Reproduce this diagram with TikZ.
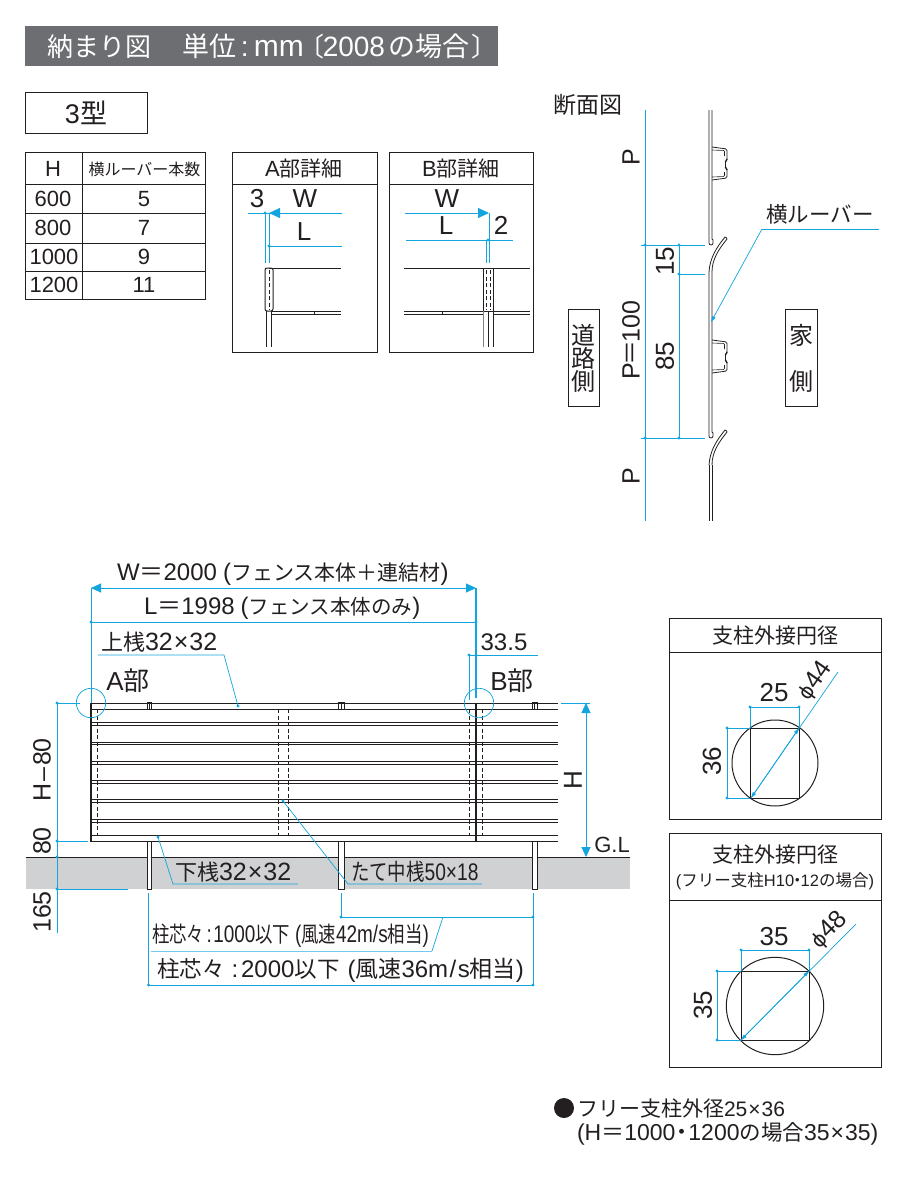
\documentclass[tikz,border=0pt]{standalone}
\usepackage{fontspec}
\usetikzlibrary{arrows.meta}
\setmainfont{Liberation Sans}
\newfontfamily\jpf{Noto Sans CJK JP}
\newfontfamily\dvf{DejaVu Sans}
\newcommand{\J}[1]{{\jpf #1}}
\newcommand{\Js}[2]{{\fontsize{#1}{#1}\selectfont\jpf #2}}
\newcommand{\tm}{\hspace{1pt}×\hspace{1pt}}
\definecolor{dimblue}{HTML}{12A5DE}
\definecolor{ink}{HTML}{231F20}
\definecolor{ground}{HTML}{D0D1D3}
\definecolor{headbg}{HTML}{6D6E71}
\tikzset{
  fs/.style={font=\fontsize{#1}{#1}\selectfont,text=ink,inner sep=0pt,outer sep=0pt},
  dimline/.style={draw=dimblue,line width=0.9pt},
  thinblue/.style={draw=dimblue,line width=0.7pt},
  outline/.style={draw=ink,line width=1pt},
  thickpost/.style={draw=ink,line width=1.6pt},
  rail/.style={draw=ink,line width=1pt},
  dashline/.style={draw=ink,line width=0.8pt,dash pattern=on 4pt off 2.5pt},
  bigtip/.style={-{Triangle[length=11pt,width=10pt]}},
  bothtip/.style={{Triangle[length=10pt,width=9pt]}-{Triangle[length=10pt,width=9pt]}},
  smalltip/.style={-{Triangle[length=6pt,width=3.5pt]}}
}
\newcommand{\dt}[1]{\fill[dimblue] #1 circle[radius=1.7pt];}
\begin{document}
\begin{tikzpicture}[x=1pt,y=-1pt]
\useasboundingbox (0,0) rectangle (900,1200);
\fill[white] (0,0) rectangle (900,1200);
% header
\fill[headbg] (25,26) rectangle (498,66);
\node[fs=28,text=white,anchor=west] (title) at (47,46) {\Js{26}{納まり図}\hspace{31pt}\Js{27}{単位}\hspace{5pt}:\hspace{5pt}{\fontsize{30}{30}\selectfont mm}\hspace{-5pt}\Js{26}{〔}\hspace{-2pt}2008\hspace{3pt}\Js{27}{の場合}\hspace{2pt}\Js{26}{〕}};
\node[draw=ink,line width=1pt,minimum width=122pt,minimum height=41pt,fs=27,anchor=north west] (kata) at (25,92) {3\Js{27}{型}};
% table
\draw[outline] (25,152) rectangle (205,299);
\draw[outline] (82,152) -- (82,299);
\foreach \yy in {184,213,243,271} \draw[outline] (25,\yy) -- (205,\yy);
\node[fs=22] (th) at (53,169) {H};
\node[fs=16] (tl) at (144.5,169) {\J{横ルーバー本数}};
\node[fs=22] (r1) at (53,199) {600};  \node[fs=22] (c1) at (144,199) {5};
\node[fs=22] (r2) at (53,228) {800};  \node[fs=22] (c2) at (144,228) {7};
\node[fs=22] (r3) at (54,257) {1000}; \node[fs=22] (c3) at (144,257) {9};
\node[fs=22] (r4) at (54,285) {1200}; \node[fs=22] (c4) at (144,285) {11};
% A detail
\draw[outline] (232,152) rectangle (377,352);
\draw[outline] (232,184) -- (377,184);
\node[fs=22] (ah) at (304,169) {A\Js{21}{部詳細}};
\draw[dimline] (248,213) -- (279,213);
\draw[dimline,bigtip] (342,213) -- (269,213);
\draw[dimline] (269,246) -- (342,246);
\draw[thinblue] (265,213) -- (265,263);
\draw[thinblue] (269,213) -- (269,263);
\dt{(265,213)} \dt{(269,246)}
\node[fs=26] (a3) at (257,199) {3};
\node[fs=26] (aw) at (305,199) {W};
\node[fs=26] (al) at (304,232) {L};
\draw[rail] (269,268) -- (341,268);
\draw[rail] (271,311.5) -- (341,311.5);
\draw[rail] (271,314) -- (341,314);
\draw[rail] (314,311.5) -- (314,314);
\draw[outline,rounded corners=2pt] (273,268) -- (265,268) -- (265,311) -- (273,311) -- cycle;
\draw[dashline] (269,270) -- (269,310);
\draw[rail] (266,311) -- (266,347);
\draw[rail] (271,311) -- (271,347);
% B detail
\draw[outline] (389,152) rectangle (533,352);
\draw[outline] (389,184) -- (533,184);
\node[fs=22] (bh) at (461,169) {B\Js{21}{部詳細}};
\draw[dimline,bigtip] (405,213) -- (489,213);
\draw[dimline] (406,240) -- (513,240);
\draw[thinblue] (489,213) -- (489,263);
\draw[thinblue] (486,240) -- (486,263);
\dt{(488,240)}
\node[fs=26] (bw) at (447,199) {W};
\node[fs=26] (bl) at (446,226) {L};
\node[fs=26] (b2) at (501,225) {2};
\draw[rail] (404,268) -- (530,268);
\draw[rail] (404,311.5) -- (530,311.5);
\draw[rail] (404,314) -- (530,314);
\draw[rail] (442,311.5) -- (442,314);
\fill[white] (483,268) rectangle (493,311);
\draw[outline] (483,268) rectangle (493,311);
\draw[dashline] (486,270) -- (486,310);
\draw[dashline] (490,270) -- (490,310);
\fill[white] (483,312) rectangle (493,316);
\draw[rail] (483,311.5) -- (493,311.5);
\draw[draw=gray,line width=0.8pt] (483,311) -- (483,347);
\draw[rail] (488,311) -- (488,347);
\draw[rail] (493,311) -- (493,347);
% section
\node[fs=23,anchor=west] (dan) at (553,105) {\J{断面図}};
\draw[thinblue] (645,110) -- (645,521);
\foreach \yy in {245,438} {\draw[thinblue] (641,\yy) -- (705,\yy); \dt{(645,\yy)} \dt{(679,\yy)}}
\draw[thinblue] (678,274) -- (705,274); \dt{(679,274)}
\draw[thinblue] (679,245) -- (679,438);
\node[fs=25,rotate=90] (p1) at (631,157) {P};
\node[fs=25,rotate=90] (p2) at (631,340) {P\hspace{-2pt}\J{＝}\hspace{-2pt}100};
\node[fs=25,rotate=90] (p3) at (631,476) {P};
\node[fs=26,rotate=90] (d15) at (665,261) {15};
\node[fs=26,rotate=90] (d85) at (665,356) {85};
\foreach \off/\st in {0/110,193/272} {
  % straight louver body with hook
  \draw[draw=ink,line width=0.8pt] (709,\st) -- (709,{\off+243}) arc[start angle=180,end angle=360,radius=2pt] -- (713,{\off+240}) -- (712,{\off+239}) -- (712,\st);
  % clip
  \draw[draw=ink,line width=0.8pt,rounded corners=1.5pt] (712,{\off+147}) -- (727,{\off+149}) -- (727,{\off+160}) -- (725.5,{\off+161}) -- (725.5,{\off+168}) -- (727,{\off+169}) -- (727,{\off+178}) -- (712,{\off+180});
  \draw[draw=ink,line width=0.6pt,rounded corners=1pt] (712,{\off+150}) -- (724.5,{\off+150.5}) -- (724.5,{\off+156});
  \draw[draw=ink,line width=0.6pt,rounded corners=1pt] (712,{\off+177}) -- (724.5,{\off+176.5}) -- (724.5,{\off+172});
  % curved louver
  \draw[draw=ink,line width=0.8pt] (709,{\off+272}) .. controls (710,{\off+257}) and (717,{\off+247}) .. (725,{\off+237}) to[out=-45,in=45] (727,{\off+239}) .. controls (719,{\off+249}) and (712,{\off+259}) .. (712,{\off+272});
}
\draw[draw=ink,line width=0.8pt] (709,465) -- (709,521);
\draw[draw=ink,line width=0.8pt] (712,465) -- (712,521);
\draw[thinblue] (879,229) -- (762,229);
\draw[thinblue,smalltip] (762,229) -- (711,322);
\node[fs=21.5] (yoko) at (820,214) {\J{横ルーバー}};
\node[draw=ink,line width=1pt,minimum width=31pt,minimum height=97pt,anchor=north west] (road) at (568,309) {};
\node[fs=24] (c1a) at (583.5,335) {\J{道}};
\node[fs=24] (c1b) at (583.5,358) {\J{路}};
\node[fs=24] (c1c) at (583.5,381) {\J{側}};
\node[draw=ink,line width=1pt,minimum width=32pt,minimum height=97pt,anchor=north west] (house) at (785,309) {};
\node[fs=24] (c2a) at (801,335) {\J{家}};
\node[fs=24] (c2b) at (801,381) {\J{側}};
% ground
\fill[ground] (26,857) rectangle (630,889);
\draw[rail] (26,857) -- (630,857);
% fence louvers
\foreach \ya/\yb in {722.5/725,742.3/744.5,761.5/764,780.5/783,799.5/802.5,819.5/822.5} {
  \draw[rail] (91,\ya) -- (558,\ya);
  \draw[rail] (91,\yb) -- (558,\yb);
}
\draw[rail] (91,703.7) -- (558,703.7);
\draw[rail] (91,709) -- (558,709);
\draw[rail] (91,835) -- (558,835);
\draw[rail] (91,841.3) -- (558,841.3);
\foreach \xx in {97,278,288,469,482} \draw[dashline] (\xx,709) -- (\xx,835);
\draw[thickpost] (91,703) -- (91,842);
\draw[thickpost] (476,703) -- (476,841);
% top clips
\foreach \xa/\xb in {147/151.5,338/344,532/537} {
  \draw[rail] (\xa,702) rectangle (\xb,709);
  \draw[rail] ({(\xa+\xb)/2},702) -- ({(\xa+\xb)/2},709);
}
% posts
\foreach \xa/\xb in {147/151.5,338/344,532/537} {
  \draw[rail,fill=white] (\xa,841.3) rectangle (\xb,889);
}
% top dims
\draw[dimline,bothtip] (91,588) -- (476,588);
\draw[dimline] (91,622) -- (476,622);
\dt{(91,622)} \dt{(476,622)}
\draw[thinblue] (91,588) -- (91,703);
\draw[dimline,line width=1.3pt] (476,588) -- (476,698);
\draw[thinblue] (469,655) -- (469,700);
\draw[thinblue] (469,655) -- (538,655);
\dt{(469,655)} \dt{(476,655)}
\node[fs=24,anchor=west] (wt) at (117,574) {W\J{＝}2000\hspace{6pt}(\Js{21}{フェンス本体＋連結材})};
\node[fs=24,anchor=west] (lt) at (144,608) {L\J{＝}1998\hspace{6pt}(\Js{20.5}{フェンス本体のみ})};
\node[fs=24] (t335) at (504,642) {33.5};
\draw[draw=dimblue,line width=0.7pt] (91,703) circle[radius=14.7pt];
\draw[draw=dimblue,line width=0.7pt] (479,703) circle[radius=14.7pt];
\node[fs=26] (apart) at (128,681) {A\J{部}};
\node[fs=26] (bpart) at (512,681) {B\J{部}};
% leader upper rail
\node[fs=25,anchor=west] (jou) at (101,642) {\Js{22}{上桟}32\tm 32};
\draw[thinblue] (98,655) -- (224,655) -- (238,706); \dt{(238,706)}
% leader lower rail
\node[fs=25,anchor=west] (ge) at (175,872) {\Js{22}{下桟}32\tm 32};
\draw[thinblue] (298,884) -- (173,884) -- (158,837); \dt{(158,837)}
% leader mid
\node[fs=24,anchor=west] (tate) at (351,872) {\scalebox{0.8}[1]{\Js{23}{たて中桟}50×18}};
\draw[thinblue] (482,884) -- (348,884) -- (283,801); \dt{(283,801)}
% left dims
\draw[thinblue] (57,703) -- (57,933);
\draw[thinblue] (57,703) -- (80,703);
\draw[thinblue] (57,841) -- (88,841);
\draw[thinblue] (57,889) -- (128,889);
\dt{(57,703)} \dt{(57,841)} \dt{(57,857)} \dt{(57,889)}
\node[fs=25,rotate=90] (hm) at (42,770) {H\hspace{2pt}–\hspace{2pt}80};
\node[fs=25,rotate=90] (e80) at (42,841) {80};
\node[fs=25,rotate=90] (e165) at (42,912) {165};
% H dim
\draw[thinblue] (561,703) -- (590,703);
\draw[dimline,bothtip] (586,703) -- (586,857);
\node[fs=26,rotate=90] (hh) at (573,780) {H};
\node[fs=22] (gl) at (612,845) {G.L};
% bottom dims
\draw[thinblue] (148.5,893) -- (148.5,985);
\draw[thinblue] (341,893) -- (341,917);
\draw[thinblue] (533,893) -- (533,985);
\draw[thinblue] (341,917) -- (533,917);
\draw[dimline] (148.5,985) -- (533,985);
\dt{(341,917)} \dt{(533,917)} \dt{(148.5,985)} \dt{(533,985)}
\draw[draw=dimblue!60,line width=0.9pt] (151,951) -- (432,951);
\draw[thinblue] (432,951) -- (443,917);
\node[fs=24,anchor=west] (s1) at (152,936) {\scalebox{0.79}[1]{\Js{22}{柱芯々}\hspace{3pt}:\hspace{2pt}1000\Js{22}{以下}\hspace{6pt}(\Js{22}{風速}42m/s\Js{22}{相当})}};
\node[fs=24,anchor=west] (s2) at (157,970) {\Js{22.5}{柱芯々}\hspace{7pt}:\hspace{3pt}2000\Js{22.5}{以下}\hspace{8pt}(\Js{23}{風速}36m\hspace{1.5pt}/\hspace{1.5pt}s\Js{23}{相当})};
% box 1
\draw[outline] (669,618) rectangle (881,819);
\draw[outline] (669,652) -- (881,652);
\node[fs=21] (b1h) at (775,636) {\J{支柱外接円径}};
\draw[outline] (775,763) circle[radius=43pt];
\draw[outline] (750,728) rectangle (799,798);
\draw[dimline] (750,707) -- (799,707);
\draw[thinblue] (750,707) -- (750,728);
\draw[thinblue] (799,707) -- (799,728);
\dt{(750,707)} \dt{(799,707)}
\draw[dimline] (727,728) -- (750,728);
\draw[dimline] (727,798) -- (750,798);
\draw[dimline] (727,728) -- (727,798);
\dt{(727,728)} \dt{(727,798)}
\draw[thinblue,smalltip] (838,672) -- (751,798);
\draw[thinblue,smalltip] (751,798) -- (799,728);
\node[fs=26] (n25) at (774,693) {25};
\node[fs=26,rotate=90] (n36) at (712,761) {36};
\node[fs=25,rotate=55] (phi44) at (815,681) {{\dvf\fontsize{20}{20}\selectfont ϕ}44};
% box 2
\draw[outline] (669,833) rectangle (881,1067);
\draw[outline] (669,900) -- (881,900);
\node[fs=21] (b2h) at (775,855) {\J{支柱外接円径}};
\node[fs=16.5] (b2s) at (775,881) {(\J{フリー支柱}H10\hspace{-5pt}\J{・}\hspace{-5pt}12\J{の場合})};
\draw[outline] (775,1006) circle[radius=48.7pt];
\draw[outline] (741,971) rectangle (809,1040);
\draw[dimline] (741,950) -- (809,950);
\draw[thinblue] (741,950) -- (741,971);
\draw[thinblue] (809,950) -- (809,971);
\dt{(741,950)} \dt{(809,950)}
\draw[dimline] (717,971) -- (741,971);
\draw[dimline] (717,1040) -- (741,1040);
\draw[dimline] (717,971) -- (717,1040);
\dt{(717,971)} \dt{(717,1040)}
\draw[thinblue,smalltip] (856,924) -- (741,1040);
\draw[thinblue,smalltip] (741,1040) -- (809,971);
\node[fs=26] (n35a) at (774,937) {35};
\node[fs=26,rotate=90] (n35b) at (703,1005) {35};
\node[fs=25,rotate=45] (phi48) at (829,930) {{\dvf\fontsize{20}{20}\selectfont ϕ}48};
% footnote
\fill[ink] (564,1108) circle[radius=10pt];
\node[fs=21,anchor=west] (f1) at (577,1109) {\Js{21}{フリー支柱外径}25\tm 36};
\node[fs=23,anchor=west] (f2) at (577,1134) {(H\J{＝}1000\hspace{-5pt}\J{・}\hspace{-5pt}1200\Js{21.5}{の場合}35\tm 35)};
\end{tikzpicture}
\end{document}
